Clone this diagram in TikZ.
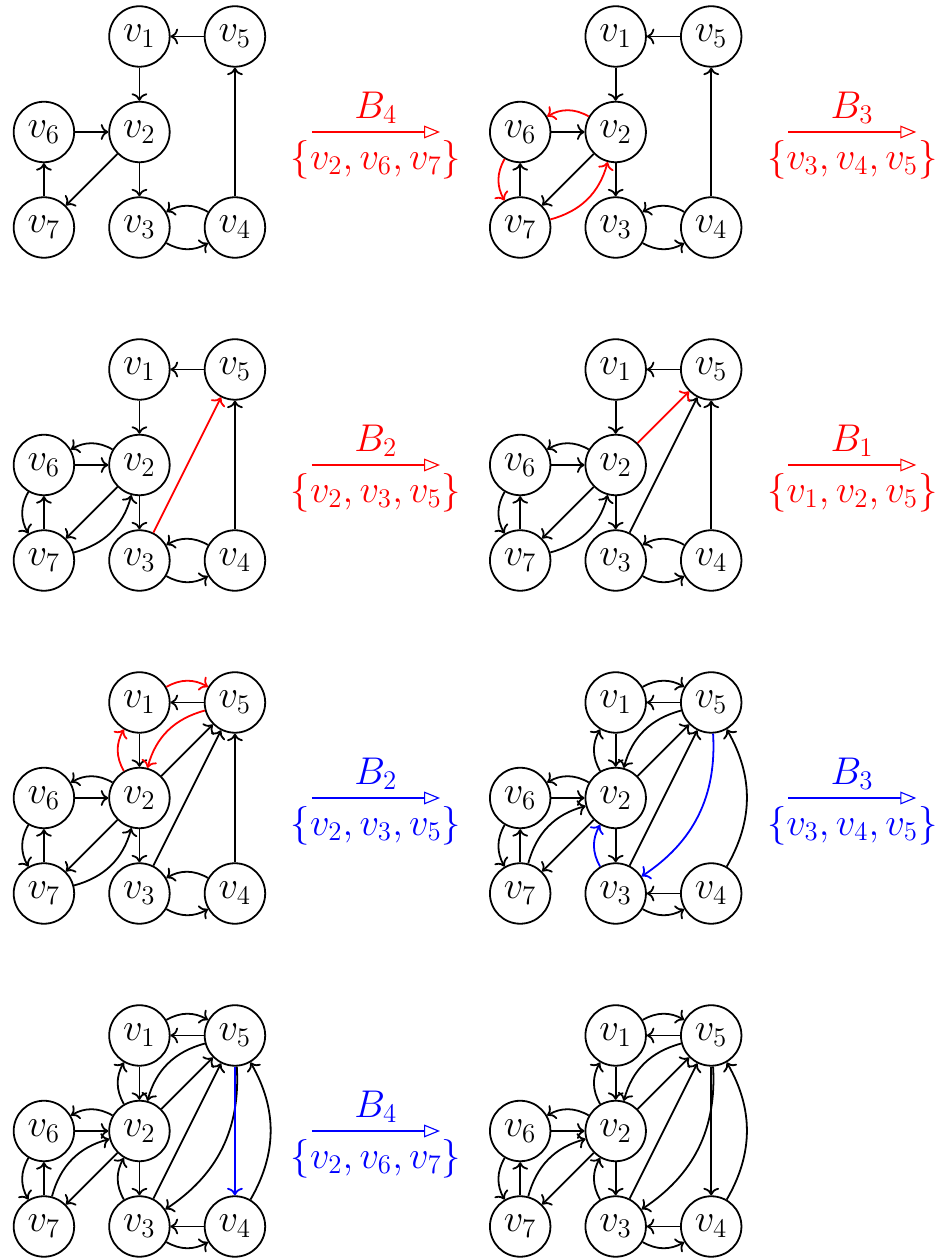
\documentclass[tikz,border=0pt]{standalone}
\usepackage{tikz}
\usetikzlibrary{arrows.meta}

% the seven vertices of one graph, names prefixed by #1
\newcommand{\drawverts}[1]{%
  \node[vtx] (#1v1) at (1.5,3)   {$v_1$};
  \node[vtx] (#1v5) at (3,3)     {$v_5$};
  \node[vtx] (#1v6) at (0,1.5)   {$v_6$};
  \node[vtx] (#1v2) at (1.5,1.5) {$v_2$};
  \node[vtx] (#1v7) at (0,0)     {$v_7$};
  \node[vtx] (#1v3) at (1.5,0)   {$v_3$};
  \node[vtx] (#1v4) at (3,0)     {$v_4$};
}

\begin{document}
\begin{tikzpicture}[
    vtx/.style={circle, draw, thick, minimum size=0.95cm, inner sep=0pt,
                font=\LARGE},
    edg/.style={->, thick},
    trans/.style={-{Triangle[open, length=2.5mm, width=2mm]}, line width=0.5pt},
    lab/.style={font=\LARGE},
  ]
  \useasboundingbox (-0.69,-16.185) rectangle (14.18,3.573);

  % ── Graph a ──
  \begin{scope}
    \drawverts{a}
    \draw[edg] (av5) -- (av1);
    \draw[edg] (av1) -- (av2);
    \draw[edg] (av6) -- (av2);
    \draw[edg] (av2) -- (av7);
    \draw[edg] (av7) -- (av6);
    \draw[edg] (av2) -- (av3);
    \draw[edg] (av4) -- (av5);
    \draw[edg] (av4) to[bend right] (av3);
    \draw[edg] (av3) to[bend right] (av4);

    \coordinate (sa) at (4.21,1.5);
    \coordinate (ta) at (6.22,1.5);
    \draw[trans, red] (sa) -- node[lab, above] (la1) {$B_4$}
      node[lab, below] (la2) {$\{v_2,v_6,v_7\}$} (ta);
  \end{scope}

  % ── Graph b ──
  \begin{scope}[xshift=7.48cm]
    \drawverts{b}
    \draw[edg] (bv5) -- (bv1);
    \draw[edg] (bv1) -- (bv2);
    \draw[edg] (bv6) -- (bv2);
    \draw[edg] (bv2) -- (bv7);
    \draw[edg] (bv7) -- (bv6);
    \draw[edg] (bv2) -- (bv3);
    \draw[edg] (bv4) -- (bv5);
    \draw[edg] (bv4) to[bend right] (bv3);
    \draw[edg] (bv3) to[bend right] (bv4);
    \draw[edg, red] (bv2) to[bend right] (bv6);
    \draw[edg, red] (bv6) to[bend right] (bv7);
    \draw[edg, red] (bv7) to[bend right] (bv2);

    \coordinate (sb) at (4.21,1.5);
    \coordinate (tb) at (6.22,1.5);
    \draw[trans, red] (sb) -- node[lab, above] (lb1) {$B_3$}
      node[lab, below] (lb2) {$\{v_3,v_4,v_5\}$} (tb);
  \end{scope}

  % ── Graph c ──
  \begin{scope}[yshift=-5.23cm]
    \drawverts{c}
    \draw[edg] (cv5) -- (cv1);
    \draw[edg] (cv1) -- (cv2);
    \draw[edg] (cv6) -- (cv2);
    \draw[edg] (cv2) -- (cv7);
    \draw[edg] (cv7) -- (cv6);
    \draw[edg] (cv2) -- (cv3);
    \draw[edg] (cv4) -- (cv5);
    \draw[edg] (cv4) to[bend right] (cv3);
    \draw[edg] (cv3) to[bend right] (cv4);
    \draw[edg] (cv2) to[bend right] (cv6);
    \draw[edg] (cv6) to[bend right] (cv7);
    \draw[edg] (cv7) to[bend right] (cv2);
    \draw[edg, red] (cv3) -- (cv5);

    \coordinate (sc) at (4.21,1.5);
    \coordinate (tc) at (6.22,1.5);
    \draw[trans, red] (sc) -- node[lab, above] (lc1) {$B_2$}
      node[lab, below] (lc2) {$\{v_2,v_3,v_5\}$} (tc);
  \end{scope}

  % ── Graph d ──
  \begin{scope}[xshift=7.48cm, yshift=-5.23cm]
    \drawverts{d}
    \draw[edg] (dv5) -- (dv1);
    \draw[edg] (dv1) -- (dv2);
    \draw[edg] (dv6) -- (dv2);
    \draw[edg] (dv2) -- (dv7);
    \draw[edg] (dv7) -- (dv6);
    \draw[edg] (dv2) -- (dv3);
    \draw[edg] (dv4) -- (dv5);
    \draw[edg] (dv4) to[bend right] (dv3);
    \draw[edg] (dv3) to[bend right] (dv4);
    \draw[edg] (dv2) to[bend right] (dv6);
    \draw[edg] (dv6) to[bend right] (dv7);
    \draw[edg] (dv7) to[bend right] (dv2);
    \draw[edg] (dv3) -- (dv5);
    \draw[edg, red] (dv2) -- (dv5);

    \coordinate (sd) at (4.21,1.5);
    \coordinate (td) at (6.22,1.5);
    \draw[trans, red] (sd) -- node[lab, above] (ld1) {$B_1$}
      node[lab, below] (ld2) {$\{v_1,v_2,v_5\}$} (td);
  \end{scope}

  % ── Graph e ──
  \begin{scope}[yshift=-10.46cm]
    \drawverts{e}
    \draw[edg] (ev5) -- (ev1);
    \draw[edg] (ev1) -- (ev2);
    \draw[edg] (ev6) -- (ev2);
    \draw[edg] (ev2) -- (ev7);
    \draw[edg] (ev7) -- (ev6);
    \draw[edg] (ev2) -- (ev3);
    \draw[edg] (ev4) -- (ev5);
    \draw[edg] (ev4) to[bend right] (ev3);
    \draw[edg] (ev3) to[bend right] (ev4);
    \draw[edg] (ev2) to[bend right] (ev6);
    \draw[edg] (ev6) to[bend right] (ev7);
    \draw[edg] (ev7) to[bend right] (ev2);
    \draw[edg] (ev3) -- (ev5);
    \draw[edg] (ev2) -- (ev5);
    \draw[edg, red] (ev1) to[bend left] (ev5);
    \draw[edg, red] (ev5) to[bend right] (ev2);
    \draw[edg, red] (ev2) to[bend left] (ev1);

    \coordinate (se) at (4.21,1.5);
    \coordinate (te) at (6.22,1.5);
    \draw[trans, blue] (se) -- node[lab, above] (le1) {$B_2$}
      node[lab, below] (le2) {$\{v_2,v_3,v_5\}$} (te);
  \end{scope}

  % ── Graph f ──
  \begin{scope}[xshift=7.48cm, yshift=-10.46cm]
    \drawverts{f}
    \draw[edg] (fv5) -- (fv1);
    \draw[edg] (fv1) to[bend left] (fv5);
    \draw[edg] (fv1) -- (fv2);
    \draw[edg] (fv2) to[bend left] (fv1);
    \draw[edg] (fv5) to[bend right] (fv2);
    \draw[edg] (fv2) -- (fv5);
    \draw[edg] (fv3) -- (fv5);
    \draw[edg] (fv6) -- (fv2);
    \draw[edg] (fv2) to[bend right] (fv6);
    \draw[edg] (fv6) to[bend right] (fv7);
    \draw[edg] (fv7) -- (fv6);
    \draw[edg] (fv2) -- (fv7);
    \draw[edg] (fv7) to[bend left] (fv2);
    \draw[edg] (fv2) -- (fv3);
    \draw[edg] (fv4) to[bend right] (fv5);
    \draw[edg] (fv4) -- (fv3);
    \draw[edg] (fv3) to[bend right] (fv4);
    \draw[edg, blue] (fv5) to[bend left] (fv3);
    \draw[edg, blue] (fv3) to[bend left] (fv2);

    \coordinate (sf) at (4.21,1.5);
    \coordinate (tf) at (6.22,1.5);
    \draw[trans, blue] (sf) -- node[lab, above] (lf1) {$B_3$}
      node[lab, below] (lf2) {$\{v_3,v_4,v_5\}$} (tf);
  \end{scope}

  % ── Graph g ──
  \begin{scope}[yshift=-15.69cm]
    \drawverts{g}
    \draw[edg] (gv5) -- (gv1);
    \draw[edg] (gv1) to[bend left] (gv5);
    \draw[edg] (gv1) -- (gv2);
    \draw[edg] (gv2) to[bend left] (gv1);
    \draw[edg] (gv5) to[bend right] (gv2);
    \draw[edg] (gv2) -- (gv5);
    \draw[edg] (gv3) -- (gv5);
    \draw[edg] (gv6) -- (gv2);
    \draw[edg] (gv2) to[bend right] (gv6);
    \draw[edg] (gv6) to[bend right] (gv7);
    \draw[edg] (gv7) -- (gv6);
    \draw[edg] (gv2) -- (gv7);
    \draw[edg] (gv7) to[bend left] (gv2);
    \draw[edg] (gv2) -- (gv3);
    \draw[edg] (gv4) to[bend right] (gv5);
    \draw[edg] (gv4) -- (gv3);
    \draw[edg] (gv3) to[bend right] (gv4);
    \draw[edg] (gv5) to[bend left] (gv3);
    \draw[edg] (gv3) to[bend left] (gv2);
    \draw[edg, blue] (gv5) -- (gv4);

    \coordinate (sg) at (4.21,1.5);
    \coordinate (tg) at (6.22,1.5);
    \draw[trans, blue] (sg) -- node[lab, above] (lg1) {$B_4$}
      node[lab, below] (lg2) {$\{v_2,v_6,v_7\}$} (tg);
  \end{scope}

  % ── Graph h ──
  \begin{scope}[xshift=7.48cm, yshift=-15.69cm]
    \drawverts{h}
    \draw[edg] (hv5) -- (hv1);
    \draw[edg] (hv1) to[bend left] (hv5);
    \draw[edg] (hv1) -- (hv2);
    \draw[edg] (hv2) to[bend left] (hv1);
    \draw[edg] (hv5) to[bend right] (hv2);
    \draw[edg] (hv2) -- (hv5);
    \draw[edg] (hv3) -- (hv5);
    \draw[edg] (hv6) -- (hv2);
    \draw[edg] (hv2) to[bend right] (hv6);
    \draw[edg] (hv6) to[bend right] (hv7);
    \draw[edg] (hv7) -- (hv6);
    \draw[edg] (hv2) -- (hv7);
    \draw[edg] (hv7) to[bend left] (hv2);
    \draw[edg] (hv2) -- (hv3);
    \draw[edg] (hv4) to[bend right] (hv5);
    \draw[edg] (hv4) -- (hv3);
    \draw[edg] (hv3) to[bend right] (hv4);
    \draw[edg] (hv5) to[bend left] (hv3);
    \draw[edg] (hv3) to[bend left] (hv2);
    \draw[edg] (hv5) -- (hv4);
  \end{scope}
\end{tikzpicture}
\end{document}
